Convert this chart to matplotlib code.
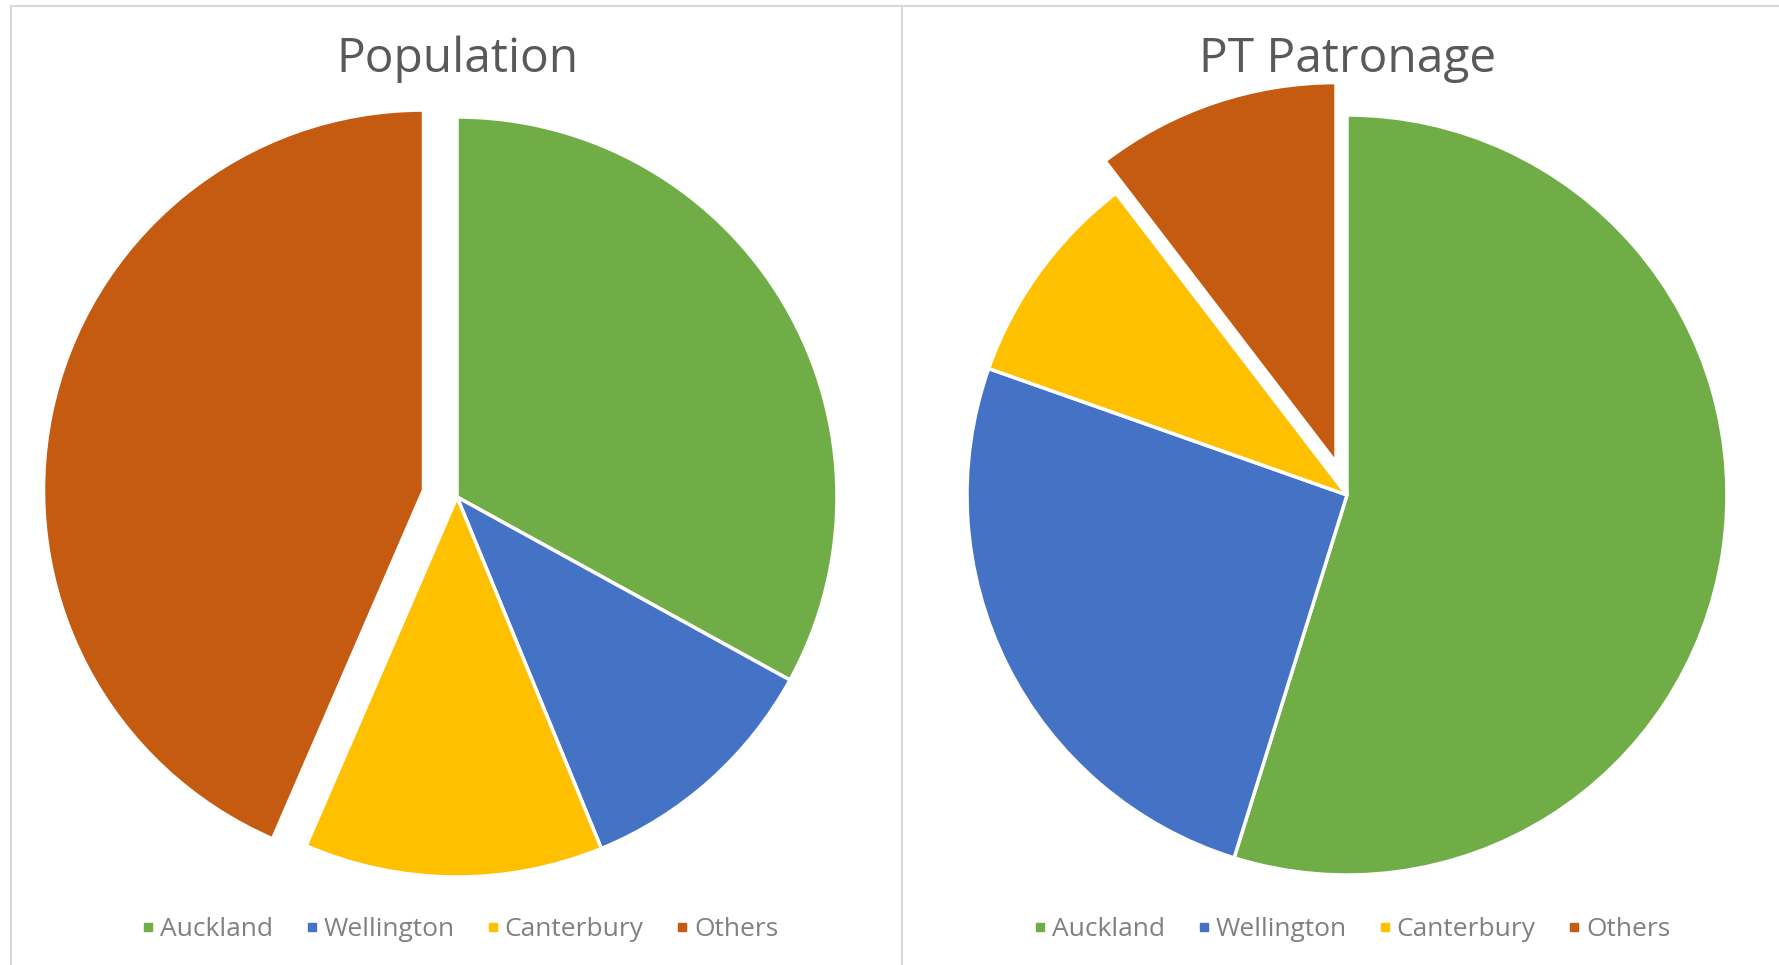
import matplotlib.pyplot as plt
from matplotlib.lines import Line2D

regions = ['Auckland', 'Wellington', 'Canterbury', 'Others']
population = [33.0, 10.8, 12.7, 43.5]
patronage = [54.8, 25.6, 9.2, 10.4]
colors = ['#70AD47', '#4472C4', '#FFC000', '#C55A11']

plt.rcParams['font.family'] = ['Open Sans', 'DejaVu Sans']

W, H = 1779, 965
fig = plt.figure(figsize=(W / 100, H / 100), dpi=100)
fig.patch.set_facecolor('white')

R = 380  # pie radius in pixels
lim = 1.25


def pie_axes(cx, cy):
    # cx, cy in pixels from top-left
    size = 2 * R * lim
    return fig.add_axes([(cx - size / 2) / W, 1 - (cy + size / 2) / H, size / W, size / H])


def draw(ax, values, title, tx, ty):
    ax.pie(values, colors=colors, startangle=90, counterclock=False,
           explode=[0, 0, 0, 0.09],
           wedgeprops=dict(edgecolor='white', linewidth=2.5))
    ax.set_xlim(-lim, lim)
    ax.set_ylim(-lim, lim)
    ax.set_aspect('equal')
    ax.axis('off')
    fig.text(tx / W, 1 - ty / H, title, ha='center', va='center',
             fontsize=34.5, color='#595959')


ax1 = pie_axes(457, 497)
draw(ax1, population, 'Population', 457, 59)
ax2 = pie_axes(1347, 495)
draw(ax2, patronage, 'PT Patronage', 1348, 59)

handles = [Line2D([], [], marker='s', linestyle='none', markersize=6,
                  markerfacecolor=c, markeredgecolor=c) for c in colors]
for lx in (460, 1352):
    fig.legend(handles, regions, loc='center', bbox_to_anchor=(lx / W, 1 - 930 / H),
               ncol=4, frameon=False, fontsize=19, labelcolor='#808080',
               handlelength=0.5, handletextpad=0.2, columnspacing=1.2)

# panel borders
border = '#D9D9D9'
fig.add_artist(Line2D([11 / W, 1], [1 - 6 / H, 1 - 6 / H], color=border, lw=1.5))
fig.add_artist(Line2D([11 / W, 11 / W], [0, 1 - 6 / H], color=border, lw=1.5))
fig.add_artist(Line2D([902 / W, 902 / W], [0, 1 - 6 / H], color=border, lw=1.5))

fig.savefig('out.png', dpi=100)
